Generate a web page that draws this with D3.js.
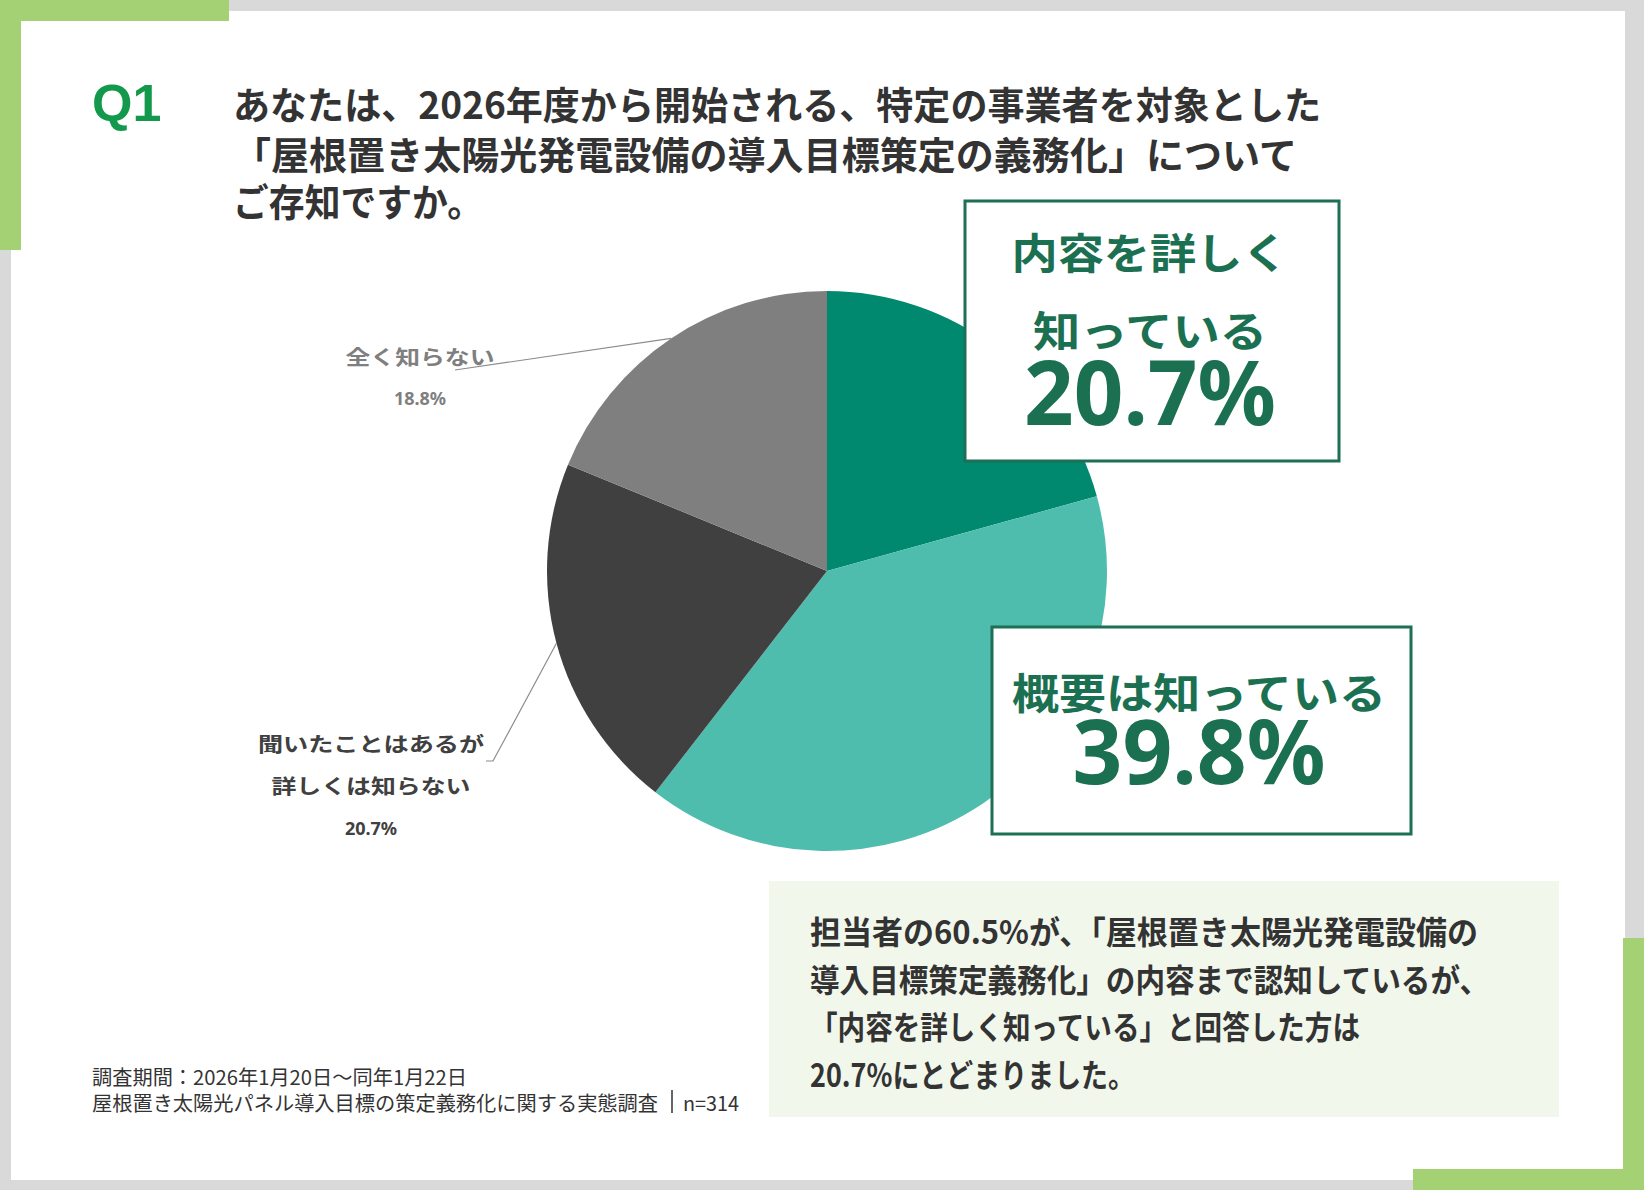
<!DOCTYPE html>
<html lang="ja">
<head>
<meta charset="utf-8">
<script src="https://cdn.jsdelivr.net/npm/d3@7"></script>
<style>
  body { margin: 0; background: #d9d9d9; }
  svg { display: block; }
  text { font-family: "Noto Sans CJK JP", "Noto Sans", sans-serif; }
</style>
</head>
<body>
<svg id="chart" width="1644" height="1190"></svg>
<script>
// ---- data ----
var categories = ["内容を詳しく知っている", "概要は知っている", "聞いたことはあるが詳しくは知らない", "全く知らない"];
var values = [20.7, 39.8, 20.7, 18.8];
var sliceColors = ["#00896f", "#4fbdad", "#404040", "#7f7f7f"];

// callout text (boxes for the two green slices, side labels for the gray ones)
var boxLines = [["内容を詳しく", "知っている"], ["概要は知っている"]];
var sideLines = [null, null, ["聞いたことはあるが", "詳しくは知らない"], ["全く知らない"]];

var questionNo = "Q1";
var titleLines = [
  "あなたは、2026年度から開始される、特定の事業者を対象とした",
  "「屋根置き太陽光発電設備の導入目標策定の義務化」について",
  "ご存知ですか。"
];
var summaryLines = [
  "担当者の60.5%が、「屋根置き太陽光発電設備の",
  "導入目標策定義務化」の内容まで認知しているが、",
  "「内容を詳しく知っている」と回答した方は",
  "20.7%にとどまりました。"
];
var footerLines = [
  "調査期間：2026年1月20日～同年1月22日",
  "屋根置き太陽光パネル導入目標の策定義務化に関する実態調査"
];
var sampleSize = "n=314";

var fmtPct = function(v){ return v.toFixed(1) + "%"; };

var svg = d3.select("#chart");

// ---- frame ----
svg.append("rect").attr("width", 1644).attr("height", 1190).attr("fill", "#d9d9d9");
svg.append("rect").attr("x", 11).attr("y", 11).attr("width", 1614).attr("height", 1169).attr("fill", "#ffffff");
var green = "#a3d174";
[[0, 0, 229, 21], [0, 0, 21, 250], [1623, 938, 21, 252], [1413, 1169, 231, 21]].forEach(function(r){
  svg.append("rect").attr("x", r[0]).attr("y", r[1]).attr("width", r[2]).attr("height", r[3]).attr("fill", green);
});

// ---- heading ----
svg.append("text")
    .attr("x", 92).attr("y", 121)
    .style("font-family", "'Liberation Sans', Arial, sans-serif")
    .style("font-weight", 700).style("font-size", "52px")
    .attr("fill", "#12994b")
    .text(questionNo);

var titleW = [1088, 1064, 250];
var titleY = [102, 152, 199];
svg.selectAll(".title").data(titleLines).enter().append("text")
    .attr("class", "title")
    .attr("x", 233)
    .attr("y", function(d, i){ return titleY[i]; })
    .attr("dominant-baseline", "central")
    .attr("textLength", function(d, i){ return titleW[i]; })
    .attr("lengthAdjust", "spacingAndGlyphs")
    .style("font-weight", 700).style("font-size", "38px")
    .attr("fill", "#333333")
    .text(function(d){ return d; });

// ---- pie ----
var cx = 827, cy = 571, radius = 280;
var pieData = categories.map(function(c, i){ return {name: c, value: values[i], i: i}; });
var arcs = d3.pie().sort(null).value(function(d){ return d.value; })(pieData);
var arc = d3.arc().innerRadius(0).outerRadius(radius);
var rim = d3.arc().innerRadius(radius).outerRadius(radius);

var gPie = svg.append("g").attr("transform", "translate(" + cx + "," + cy + ")");
gPie.selectAll("path").data(arcs).enter().append("path")
    .attr("d", arc)
    .attr("fill", function(d){ return sliceColors[d.data.i]; });

// ---- side labels with leader lines ----
var sideLayout = {
  2: {x: 371, y: [743, 785], pctY: 828, w: [226, 199], color: "#404040", lead: [[486, 761], [493, 761]]},
  3: {x: 420, y: [356], pctY: 398, w: [149], color: "#7f7f7f", lead: [[455, 370]]}
};
arcs.forEach(function(a){
  var k = a.data.i;
  if (!sideLines[k]) return;
  var L = sideLayout[k];
  var c = rim.centroid(a);
  var pts = L.lead.concat([[cx + c[0], cy + c[1]]]);
  svg.append("path")
      .attr("d", d3.line()(pts))
      .attr("fill", "none").attr("stroke", "#8c8c8c").attr("stroke-width", 1.2);
  sideLines[k].forEach(function(t, j){
    svg.append("text")
        .attr("x", L.x).attr("y", L.y[j])
        .attr("text-anchor", "middle").attr("dominant-baseline", "central")
        .attr("textLength", L.w[j]).attr("lengthAdjust", "spacingAndGlyphs")
        .style("font-weight", 700).style("font-size", "20px")
        .attr("fill", L.color)
        .text(t);
  });
  svg.append("text")
      .attr("x", L.x).attr("y", L.pctY)
      .attr("text-anchor", "middle").attr("dominant-baseline", "central")
      .style("font-family", "'Noto Sans', sans-serif")
      .style("font-weight", 700).style("font-size", "18px")
      .attr("fill", L.color)
      .text(fmtPct(values[k]));
});

// ---- callout boxes ----
var boxLayout = [
  {x: 965, y: 201, w: 374, h: 260, cx: 1150, lineY: [250, 328], lineW: [277, 234], pctY: 425, pctW: 252},
  {x: 992, y: 627, w: 419, h: 207, cx: 1199, lineY: [690], lineW: [374], pctY: 784, pctW: 253}
];
var boxGreen = "#1b7052";
boxLines.forEach(function(lines, k){
  var B = boxLayout[k];
  svg.append("rect")
      .attr("x", B.x).attr("y", B.y).attr("width", B.w).attr("height", B.h)
      .attr("fill", "#ffffff").attr("stroke", "#1d6f56").attr("stroke-width", 3);
  lines.forEach(function(t, j){
    svg.append("text")
        .attr("x", B.cx).attr("y", B.lineY[j])
        .attr("text-anchor", "middle").attr("dominant-baseline", "central")
        .attr("textLength", B.lineW[j]).attr("lengthAdjust", "spacingAndGlyphs")
        .style("font-weight", 700).style("font-size", "42px")
        .attr("fill", boxGreen)
        .text(t);
  });
  svg.append("text")
      .attr("x", B.cx).attr("y", B.pctY)
      .attr("text-anchor", "middle")
      .attr("textLength", B.pctW).attr("lengthAdjust", "spacingAndGlyphs")
      .style("font-family", "'Noto Sans', sans-serif")
      .style("font-weight", 700).style("font-size", "90px")
      .attr("fill", boxGreen)
      .text(fmtPct(values[k]));
});

// ---- summary panel ----
svg.append("rect")
    .attr("x", 769).attr("y", 881).attr("width", 790).attr("height", 236)
    .attr("fill", "#f2f7ec");
var sumW = [668, 679, 550, 325];
var sumY = [930, 978, 1025, 1073];
svg.selectAll(".sum").data(summaryLines).enter().append("text")
    .attr("class", "sum")
    .attr("x", 810)
    .attr("y", function(d, i){ return sumY[i]; })
    .attr("dominant-baseline", "central")
    .attr("textLength", function(d, i){ return sumW[i]; })
    .attr("lengthAdjust", "spacingAndGlyphs")
    .style("font-weight", 700).style("font-size", "32px")
    .attr("fill", "#333333")
    .text(function(d){ return d; });

// ---- footer ----
var footW = [375, 566];
var footY = [1076, 1102];
svg.selectAll(".foot").data(footerLines).enter().append("text")
    .attr("class", "foot")
    .attr("x", 92)
    .attr("y", function(d, i){ return footY[i]; })
    .attr("dominant-baseline", "central")
    .attr("textLength", function(d, i){ return footW[i]; })
    .attr("lengthAdjust", "spacingAndGlyphs")
    .style("font-size", "20px")
    .attr("fill", "#333333")
    .text(function(d){ return d; });
svg.append("line")
    .attr("x1", 672).attr("x2", 672).attr("y1", 1090).attr("y2", 1113)
    .attr("stroke", "#333333").attr("stroke-width", 1.5);
svg.append("text")
    .attr("x", 683).attr("y", 1102)
    .attr("dominant-baseline", "central")
    .attr("textLength", 56).attr("lengthAdjust", "spacingAndGlyphs")
    .style("font-size", "20px")
    .attr("fill", "#333333")
    .text(sampleSize);
</script>
</body>
</html>
